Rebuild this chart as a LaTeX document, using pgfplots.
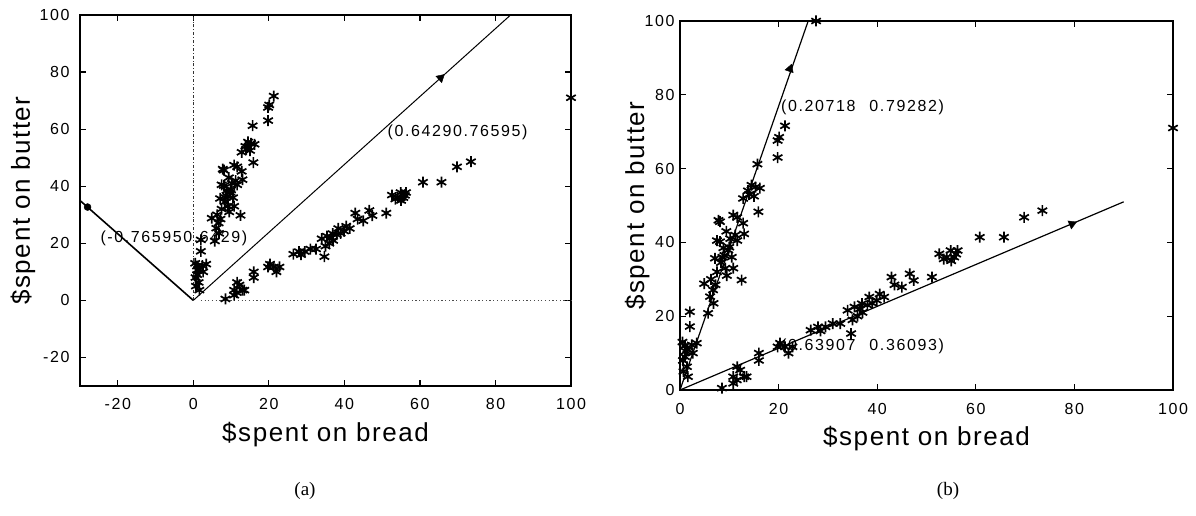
\documentclass[border=0pt]{standalone}
\usepackage{pgfplots}
\pgfplotsset{compat=1.18}
\usepackage{pgfplotstable}
\usepackage{fontspec}
\setmainfont{Liberation Sans}
\newfontfamily\capfont{Liberation Serif}
\newfontfamily\lblfont[LetterSpace=6]{Liberation Sans}
\newfontfamily\tkfont[LetterSpace=10]{Liberation Sans}

\pgfplotstableread{
x y
0.5 13
1 12
1.5 11
2.4 12.2
3.4 12.7
1 9
1.4 6.3
1.6 3.6
0.7 5
2 21.2
2 17.2
2.6 10
4.9 28.8
5.7 20.8
6.1 25.3
6.7 27.1
6.3 30
7.1 35.7
7.5 40.5
7.8 46
8.1 45.6
8.1 40.2
8.6 36
9.2 33
9.8 37.9
10 38.7
10.8 33
10.8 47.4
11.2 42
11.6 40.5
11.6 46.8
12.5 29.8
12.8 45.2
13 42.3
12.8 51.9
13.8 54
14.5 55.5
15.3 55
15.9 48.3
16.2 54.7
15.7 61.2
19.8 67.6
19.8 63
20.1 68.5
21.3 71.6
9.5 31
10.5 36
8.8 38.5
7.5 32
8.3 34.5
9 36.5
10.2 41
9.4 43
14 53
15 52.5
6.8 23.5
7.2 28.5
1.2 10.5
0.6 8
}\clusterA

\pgfplotstableread{
x y
8.5 0.5
10.8 1.8
10.8 3.6
11.5 2.7
11.6 6.3
12.2 5.4
13 3.6
13.5 3.6
16 8
16 10
19.8 11.7
20.3 12.7
21.3 11.7
22 10
22.8 11.7
26.5 16.2
28 17.1
29.5 17.1
31 18
32.5 18
34.7 15.3
34 21.6
35.4 22.5
36.9 23.4
38.4 25.2
39.9 24.3
41.4 25.2
42.9 30.6
45 27.9
46.6 31.5
47.4 29.7
51.1 30.6
52.6 36.9
54.1 36
55.6 36
56.3 37.8
54.9 37.8
55 35
60.8 41.4
65.7 41.4
69.8 46.8
73.5 48.6
37 21
36 20
38 23
35 19
36.5 22
39 23.5
40.5 26
43.5 28.5
53.5 35.5
56 36.8
28.5 16
100 71
}\clusterB

\begin{document}
\begin{tikzpicture}
\path[use as bounding box] (0pt,0pt) rectangle (1196pt,516pt);
\pgfplotsset{common/.style={
  scale only axis, anchor=south west, clip=false,
  axis line style={line width=1.5pt},
  tick align=inside, tick pos=both, major tick length=6pt,
  every tick/.style={black, line width=1.2pt},
  ticklabel style={font=\tkfont\fontsize{16}{16}\selectfont},
  /pgf/number format/assume math mode=true,
  label style={font=\lblfont\fontsize{26}{28}\selectfont},
  xlabel={\$spent on bread}, ylabel={\$spent on butter},
  star/.style={only marks, mark=asterisk, mark size=5.5pt, line width=1.7pt, black},
}}
% ---------- (a) ----------
\begin{axis}[common, at={(80pt,130pt)}, width=491pt, height=371pt,
  xmin=-30, xmax=100, ymin=-30, ymax=100,
  xtick={-20,0,...,100}, ytick={-20,0,...,100},
  xticklabel style={yshift=-9pt}, yticklabel style={xshift=-7pt},
  xlabel style={at={(axis description cs:0.5,-0.132)}, anchor=center},
  ylabel style={at={(axis description cs:-0.116,0.5)}, anchor=center}]
\addplot[black!80, line width=0.8pt, dash dot] coordinates {(0,0) (0,100)};
\addplot[black!70, line width=0.9pt, dash pattern=on 1.2pt off 2.5pt] coordinates {(2,0) (100,0)};
\addplot[black, line width=1.6pt] coordinates {(0,0) (-30,35)};
\addplot[black, line width=1pt] coordinates {(0,0) (84,100)};
\addplot[only marks, mark=triangle*, mark size=5pt, mark options={rotate=-48, fill=black}] coordinates {(65.5,78)};
\addplot[only marks, mark=*, mark size=3.5pt, mark options={fill=black}] coordinates {(-28,32.7)};
\addplot[star] table {\clusterA};
\addplot[star] table {\clusterB};
\node[anchor=west, font=\tkfont\fontsize{16}{16}\selectfont] at (axis cs:-25.5,21.8) {(-0.765950.6429)};
\node[anchor=west, font=\tkfont\fontsize{16}{16}\selectfont] at (axis cs:50.5,59) {(0.64290.76595)};
\end{axis}
% ---------- (b) ----------
\begin{axis}[common, at={(680pt,126pt)}, width=493pt, height=369pt,
  xmin=0, xmax=100, ymin=0, ymax=100,
  xtick={0,20,...,100}, ytick={0,20,...,100},
  xticklabel style={yshift=-10pt}, yticklabel style={xshift=-2pt},
  xlabel style={at={(axis description cs:0.5,-0.133)}, anchor=center},
  ylabel style={at={(axis description cs:-0.087,0.5)}, anchor=center}]
\addplot[black, line width=1.2pt] coordinates {(0,0) (26,100)};
\addplot[black, line width=1.2pt] coordinates {(0,0) (90,51)};
\addplot[only marks, mark=triangle*, mark size=5pt, mark options={rotate=-19, fill=black}] coordinates {(22.3,87)};
\addplot[only marks, mark=triangle*, mark size=5pt, mark options={rotate=-67, fill=black}] coordinates {(79.5,45)};
\addplot[star] coordinates {(27.6,100)};
\addplot[star] table {\clusterA};
\addplot[star] table {\clusterB};
\node[anchor=west, font=\tkfont\fontsize{16}{16}\selectfont] at (axis cs:19.8,76.5) {(0.20718\hspace{14pt}0.79282)};
\node[anchor=west, font=\tkfont\fontsize{16}{16}\selectfont] at (axis cs:19.8,11.7) {(0.63907\hspace{14pt}0.36093)};
\end{axis}
\node[font=\capfont\fontsize{19}{19}\selectfont] at (305pt,25pt) {(a)};
\node[font=\capfont\fontsize{19}{19}\selectfont] at (948pt,25pt) {(b)};
\end{tikzpicture}
\end{document}
